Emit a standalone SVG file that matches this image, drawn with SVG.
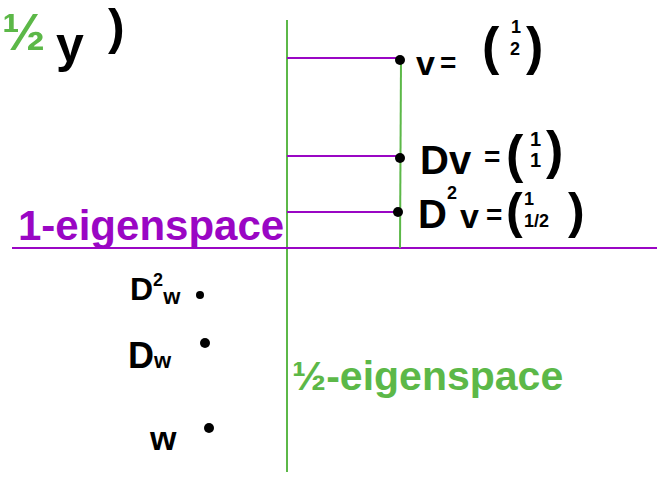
<svg xmlns="http://www.w3.org/2000/svg" width="662" height="482" viewBox="0 0 662 482">
<style>
.g{stroke:#5cb848;stroke-width:2;fill:none}
.p{stroke:#9a06c4;stroke-width:2;fill:none}
.k{font-family:"Liberation Sans",sans-serif;font-weight:bold;fill:#000}
.gt{font-family:"Liberation Sans",sans-serif;font-weight:bold;fill:#5cb848}
.pt{font-family:"Liberation Sans",sans-serif;font-weight:bold;fill:#9a06c4}
</style>
<rect width="662" height="482" fill="#fff"/>
<g id="axes">
<line class="g" x1="287" y1="20" x2="287" y2="472"/>
<line class="p" x1="12" y1="248" x2="657" y2="248"/>
<line class="g" x1="401" y1="60" x2="400" y2="248"/>
<line class="p" x1="287" y1="58" x2="400" y2="58"/>
<line class="p" x1="287" y1="156" x2="400" y2="156"/>
<line class="p" x1="287" y1="212" x2="398" y2="212"/>
</g>
<g id="topleft">
<text class="gt" x="2" y="50" font-size="52">½</text>
<text class="k" x="56" y="62" font-size="50">y</text>
<text class="k" x="108" y="44" font-size="50">)</text>
</g>
<g id="v">
<circle cx="400" cy="60" r="5"/>
<text class="k" x="416" y="75" font-size="34">v</text>
<text class="k" x="440" y="72" font-size="28">=</text>
<text class="k" x="482" y="64" font-size="52">(</text>
<text class="k" x="511" y="33" font-size="18">1</text>
<text class="k" x="510" y="55" font-size="18">2</text>
<text class="k" x="526" y="64" font-size="52">)</text>
</g>
<g id="Dv">
<circle cx="400" cy="158" r="5"/>
<text class="k" x="420" y="174" font-size="40">Dv</text>
<text class="k" x="484" y="166" font-size="28">=</text>
<text class="k" x="506" y="172" font-size="52">(</text>
<text class="k" x="530" y="146" font-size="20">1</text>
<text class="k" x="530" y="167" font-size="20">1</text>
<text class="k" x="546" y="168" font-size="52">)</text>
</g>
<g id="D2v">
<circle cx="398" cy="212" r="5"/>
<text class="k" x="418" y="228" font-size="40">D</text>
<text class="k" x="447" y="199" font-size="18">2</text>
<text class="k" x="460" y="228" font-size="34">v</text>
<text class="k" x="486" y="224" font-size="28">=</text>
<text class="k" x="506" y="228" font-size="50">(</text>
<text class="k" x="524" y="205" font-size="18">1</text>
<text class="k" x="524" y="227" font-size="18">1/2</text>
<text class="k" x="568" y="228" font-size="50">)</text>
</g>
<g id="labels">
<text class="pt" x="18" y="240" font-size="42">1-eigenspace</text>
<text class="gt" x="292" y="390" font-size="41">½-eigenspace</text>
</g>
<g id="D2w">
<text class="k" x="130" y="300" font-size="32">D<tspan font-size="18" dy="-14">2</tspan><tspan font-size="22" dy="18">w</tspan></text>
<circle cx="200" cy="295" r="4"/>
</g>
<g id="Dw">
<text class="k" x="128" y="368" font-size="36">D<tspan font-size="22">w</tspan></text>
<circle cx="205" cy="343" r="5"/>
</g>
<g id="w">
<text class="k" x="150" y="450" font-size="34">w</text>
<circle cx="209" cy="428" r="5"/>
</g>
</svg>
